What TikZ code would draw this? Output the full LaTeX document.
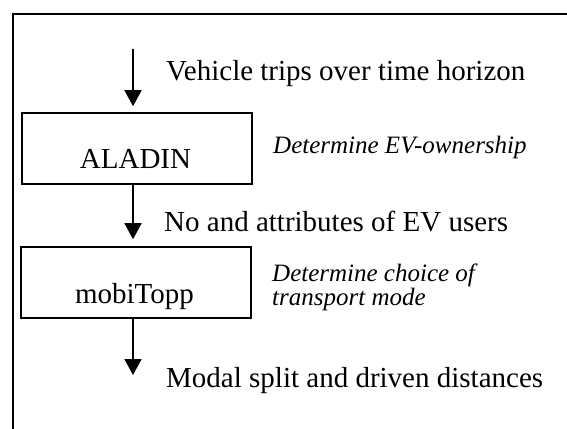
\documentclass[tikz,border=0pt]{standalone}
\usepackage{fontspec}
\setmainfont{Liberation Serif}
\usetikzlibrary{arrows.meta}
\begin{document}
\begin{tikzpicture}[x=1pt,y=-1pt,
  boxstyle/.style={draw,line width=1.6pt,minimum width=230pt,minimum height=71pt,inner sep=0pt},
  bigtext/.style={anchor=base west,inner sep=0pt,font=\fontsize{29}{34}\selectfont},
  boxtext/.style={anchor=base,inner sep=0pt,font=\fontsize{29}{34}\selectfont},
  notetext/.style={anchor=base west,inner sep=0pt,font=\fontsize{25}{24}\selectfont\itshape},
  arr/.style={line width=1.6pt,-{Triangle[width=17pt,length=16pt]}},
  framestyle/.style={line width=2.2pt}]
\useasboundingbox (0,0) rectangle (567,428);
% frame
\draw[framestyle] (13,429) -- (13,14) -- (568,14);
% boxes
\node[boxstyle] (aladin) at (137,148.5) {};
\node[boxtext] (aladintxt) at (135.5,168) {ALADIN};
\node[boxstyle] (mobitopp) at (136,282.5) {};
\node[boxtext] (mobitopptxt) at (134.5,303) {mobiTopp};
% arrows
\coordinate (in) at (133,49);
\coordinate (out) at (133,375);
\draw[arr] (in) -- ([xshift=-4pt,yshift=6pt]aladin.north);
\draw[arr] ([xshift=-4pt]aladin.south) -- ([xshift=-3pt,yshift=7pt]mobitopp.north);
\draw[arr] ([xshift=-3pt]mobitopp.south) -- (out);
% texts
\node[bigtext] (t1) at (166,80) {Vehicle trips over time horizon};
\node[notetext] (n1) at (273,153) {Determine EV-ownership};
\node[bigtext] (t2) at (164,231) {No and attributes of EV users};
\node[notetext] (n2a) at (272,281) {Determine choice of};
\node[notetext] (n2b) at (272,305) {transport mode};
\node[bigtext] (t3) at (166,387) {Modal split and driven distances};
\end{tikzpicture}
\end{document}
